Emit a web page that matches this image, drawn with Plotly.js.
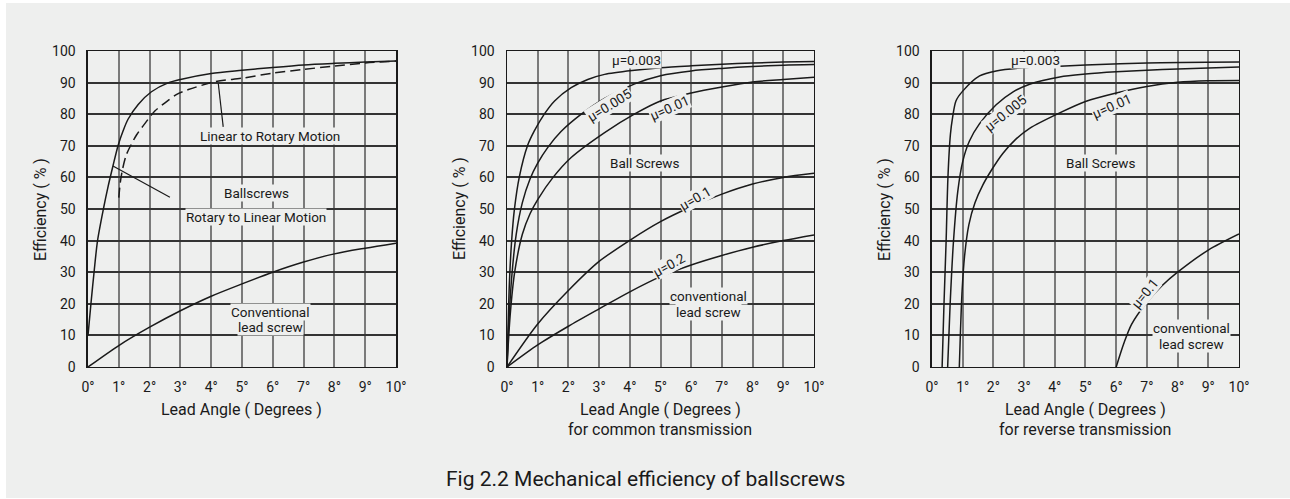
<!DOCTYPE html>
<html>
<head>
<meta charset="utf-8">
<script src="https://cdn.plot.ly/plotly-3.0.1.min.js"></script>
<style>
html,body{margin:0;padding:0;background:#ffffff;}
#chart{position:absolute;left:6px;top:3px;width:1284px;height:495px;}
</style>
</head>
<body>
<div id="chart"></div>
<script>
// ---------- tick labels ----------
const xTickVals = [0,1,2,3,4,5,6,7,8,9,10];
const xTickText = ['0°','1°','2°','3°','4°','5°','6°','7°','8°','9°','10°'];
const yTickVals = [0,10,20,30,40,50,60,70,80,90,100];

// ---------- Chart 1: Ballscrews vs conventional ----------
const c1RotX = [0, 0.1, 0.2, 0.31, 0.5, 0.65, 0.81, 0.98, 1.15, 1.3, 1.63, 2.06, 2.6, 3.0, 4.0, 5.0, 6.0, 7.0, 8.0, 9.0, 10.0];
const c1RotY = [10, 20.5, 30.3, 40, 50, 57, 63.6, 70.2, 75, 78.4, 83.1, 87.1, 89.9, 91.0, 92.9, 93.9, 94.8, 95.6, 96.1, 96.5, 96.8];
const c1LinX = [1.0, 1.05, 1.12, 1.25, 1.58, 1.79, 2.17, 2.5, 2.88, 3.26, 4.13, 5.0, 6.0, 7.0, 8.0, 9.0, 10.0];
const c1LinY = [53.6, 58.5, 62.5, 67.3, 73.5, 76.3, 81.0, 83.6, 86.3, 87.8, 90.3, 91.4, 93.0, 94.2, 95.2, 96.2, 96.8];
const c1ConvX = [0, 1, 2, 3, 4, 5, 6, 7, 8, 9, 10];
const c1ConvY = [0, 6.8, 12.6, 17.8, 22.4, 26.3, 30.0, 33.2, 35.8, 37.6, 39.2];

// ---------- Chart 2: common transmission ----------
const c2X003 = [0, 0.08, 0.15, 0.24, 0.4, 0.67, 0.89, 1.22, 1.55, 2.09, 2.63, 3.18, 4.16, 5, 6, 7, 8, 9, 10];
const c2Y003 = [0, 27.1, 39.8, 49.8, 60.1, 70.1, 74.7, 80.1, 84.2, 88.4, 91.0, 92.6, 93.9, 94.7, 95.3, 95.8, 96.2, 96.5, 96.7];
const c2X005 = [0, 0.05, 0.15, 0.3, 0.5, 0.75, 1.0, 1.33, 1.76, 2.42, 3.18, 4.16, 5, 6, 7, 8, 9, 10];
const c2Y005 = [0, 12, 28, 42, 52, 59.5, 64.5, 69.5, 74.5, 80.0, 85.0, 89.6, 92.2, 93.7, 94.5, 95.1, 95.5, 95.7];
const c2X01 = [0, 0.1, 0.25, 0.5, 0.75, 1.0, 1.5, 2.09, 3.18, 4.16, 5, 6, 7, 8, 9, 10];
const c2Y01 = [0, 16, 30, 42, 48.5, 53, 60, 66.3, 74.2, 80.1, 84.2, 86.7, 88.6, 90.2, 91.0, 91.7];
const c2X1 = [0, 1, 2, 3, 4, 5, 6, 7, 8, 9, 10];
const c2Y1 = [0, 13.6, 24.2, 33.4, 40.1, 46.0, 50.7, 54.7, 57.9, 60.0, 61.3];
const c2X2 = [0, 1, 2, 3, 4, 5, 6, 7, 8, 9, 10];
const c2Y2 = [0, 7.0, 12.9, 18.4, 23.8, 28.6, 32.3, 35.3, 37.9, 40.0, 41.8];

// ---------- Chart 3: reverse transmission ----------
const c3X003 = [0.33, 0.39, 0.46, 0.52, 0.6, 0.67, 0.78, 1.0, 1.55, 2.09, 2.96, 4.16, 5, 7, 10];
const c3Y003 = [0, 19.7, 39.8, 60.1, 73.6, 78.9, 84.2, 87.3, 92.1, 93.7, 94.7, 95.2, 95.6, 96.2, 96.5];
const c3X005 = [0.51, 0.59, 0.7, 0.84, 1.0, 1.22, 1.55, 2.09, 2.63, 3.18, 4.16, 5, 6, 7, 8, 9, 10];
const c3Y005 = [0, 19.7, 39.8, 55.6, 65.0, 71.5, 77.0, 83.0, 87.0, 89.5, 91.8, 92.7, 93.4, 93.9, 94.3, 94.6, 94.9];
const c3X01 = [0.89, 0.93, 0.98, 1.06, 1.2, 1.4, 1.65, 1.95, 2.3, 2.7, 3.18, 4.16, 5, 6, 7, 8, 9, 10];
const c3Y01 = [0, 12, 24, 35, 45, 52, 57.5, 62.5, 67.5, 71.8, 75.5, 80.4, 84.0, 86.7, 88.8, 90.1, 90.6, 90.7];
const c3X1 = [6, 6.25, 6.5, 7, 7.5, 8, 9, 10];
const c3Y1 = [0, 7.5, 13.5, 20.5, 25.8, 30.0, 37.0, 42.1];

// ---------- style ----------
const BG = '#eeefee';
const INK = '#1a1a1a';
const FONT = 'Roboto, "Noto Sans", sans-serif';

function line(x, y, xa, ya, dash) {
  return {
    x: x, y: y, xaxis: xa, yaxis: ya, type: 'scatter', mode: 'lines',
    line: {color: INK, width: 1.5, shape: 'spline', smoothing: 0.8, dash: dash || 'solid'},
    hoverinfo: 'skip', showlegend: false
  };
}

const data = [
  line(c1RotX, c1RotY, 'x', 'y'),
  line(c1LinX, c1LinY, 'x', 'y', '10px,5px'),
  line(c1ConvX, c1ConvY, 'x', 'y'),
  line(c2X003, c2Y003, 'x2', 'y2'),
  line(c2X005, c2Y005, 'x2', 'y2'),
  line(c2X01, c2Y01, 'x2', 'y2'),
  line(c2X1, c2Y1, 'x2', 'y2'),
  line(c2X2, c2Y2, 'x2', 'y2'),
  line(c3X003, c3Y003, 'x3', 'y3'),
  line(c3X005, c3Y005, 'x3', 'y3'),
  line(c3X01, c3Y01, 'x3', 'y3'),
  line(c3X1, c3Y1, 'x3', 'y3')
];

const yDom = [0.26465, 0.90303];
const xDoms = [[0.06386, 0.30374], [0.39019, 0.62928], [0.72118, 0.96028]];

function xAxis(i, anchor) {
  return {
    domain: xDoms[i], range: [0, 10], anchor: anchor,
    tickmode: 'array', tickvals: xTickVals, ticktext: xTickText,
    showgrid: true, gridcolor: '#7a7a7a', gridwidth: 2,
    zeroline: false, showline: true, mirror: true, linecolor: INK, linewidth: 1.5,
    ticks: '', ticklabelstandoff: 7,
    tickfont: {family: FONT, size: 14, color: INK}, fixedrange: true
  };
}
function yAxis(anchor) {
  return {
    domain: yDom, range: [0, 100], anchor: anchor,
    tickmode: 'array', tickvals: yTickVals,
    showgrid: true, gridcolor: '#333333', gridwidth: 2,
    zeroline: false, showline: true, mirror: true, linecolor: INK, linewidth: 1.5,
    ticks: '', ticklabelstandoff: 8,
    tickfont: {family: FONT, size: 14, color: INK}, fixedrange: true
  };
}

// text labels inside plots: [text, x, y, axis suffix, angle]
const labels = [
  ['Linear to Rotary Motion', 5.92, 73.2, '', 0],
  ['Ballscrews', 5.46, 55, '', 0],
  ['Rotary to Linear Motion', 5.45, 47.4, '', 0],
  ['Conventional', 5.92, 17.4, '', 0],
  ['lead screw', 5.92, 12.8, '', 0],
  ['μ=0.003', 4.21, 97.0, '2', 0],
  ['μ=0.005', 3.34, 82.8, '2', -32],
  ['μ=0.01', 5.28, 81.9, '2', -24],
  ['Ball Screws', 4.49, 64.7, '2', 0],
  ['μ=0.1', 6.14, 53.6, '2', -30],
  ['μ=0.2', 5.27, 32.3, '2', -29],
  ['conventional', 6.56, 22.6, '2', 0],
  ['lead screw', 6.56, 17.5, '2', 0],
  ['μ=0.003', 3.37, 97.2, '3', 0],
  ['μ=0.005', 2.39, 80.4, '3', -39],
  ['μ=0.01', 5.85, 82.7, '3', -24],
  ['Ball Screws', 5.52, 64.7, '3', 0],
  ['μ=0.1', 6.94, 23.3, '3', -51],
  ['conventional', 8.46, 12.5, '3', 0],
  ['lead screw', 8.46, 7.2, '3', 0]
];

const annotations = labels.map(l => ({
  text: l[0], x: l[1], y: l[2], xref: 'x' + l[3], yref: 'y' + l[3],
  xanchor: 'center', yanchor: 'middle',
  textangle: l[4], showarrow: false, bgcolor: BG, borderpad: 0,
  font: {family: FONT, size: 13.5, color: INK}
}));

// axis titles
const xTitle = 'Lead Angle ( Degrees )';
const xSub = ['', 'for common transmission', 'for reverse transmission'];
const yTitle = 'Efficiency ( % )';
['x', 'x2', 'x3'].forEach((xa, i) => {
  annotations.push({text: xTitle, xref: xa + ' domain', x: 0.5, yref: 'paper', y: 0.1778,
    xanchor: 'center', yanchor: 'middle',
    showarrow: false, font: {family: FONT, size: 16, color: INK}});
  if (xSub[i]) annotations.push({text: xSub[i], xref: xa + ' domain', x: 0.5, yref: 'paper', y: 0.1374,
    xanchor: 'center', yanchor: 'middle',
    showarrow: false, font: {family: FONT, size: 16, color: INK}});
  annotations.push({text: yTitle, xref: xa + ' domain', x: 0, xshift: -48, yref: 'paper', y: 0.5838,
    xanchor: 'center', yanchor: 'middle',
    textangle: -90, showarrow: false, font: {family: FONT, size: 16, color: INK}});
});
annotations.push({text: 'Fig 2.2 Mechanical efficiency of ballscrews', xref: 'paper', x: 0.4977,
  yref: 'paper', y: 0.0384, xanchor: 'center', yanchor: 'middle',
  showarrow: false, font: {family: FONT, size: 21, color: INK}});

// leader lines (chart 1)
const shapes = [
  {type: 'line', xref: 'x', yref: 'y', x0: 4.39, y0: 76, x1: 4.23, y1: 89.7, line: {color: INK, width: 1.2}},
  {type: 'line', xref: 'x', yref: 'y', x0: 2.66, y0: 53.7, x1: 0.81, y1: 63.6, line: {color: INK, width: 1.2}}
];

const layout = {
  width: 1284, height: 495,
  margin: {l: 0, r: 0, t: 0, b: 0},
  paper_bgcolor: BG, plot_bgcolor: BG,
  showlegend: false,
  xaxis: xAxis(0, 'y'), yaxis: yAxis('x'),
  xaxis2: xAxis(1, 'y2'), yaxis2: yAxis('x2'),
  xaxis3: xAxis(2, 'y3'), yaxis3: yAxis('x3'),
  annotations: annotations, shapes: shapes,
  font: {family: FONT, color: INK}
};

Plotly.newPlot('chart', data, layout, {staticPlot: true, displayModeBar: false});
</script>
</body>
</html>
